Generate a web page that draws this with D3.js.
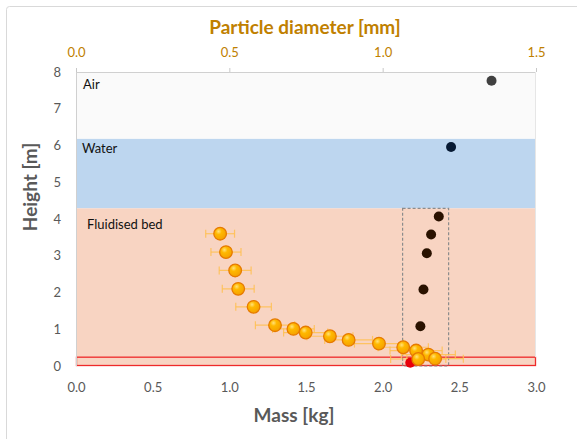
<!DOCTYPE html>
<html><head><meta charset="utf-8">
<script src="https://cdn.jsdelivr.net/npm/d3@7"></script>
<style>body{margin:0;background:#fff}svg{display:block}text{font-family:Lato,"Open Sans",sans-serif}</style>
</head><body>
<svg id="c" width="577" height="439"></svg>
<script>
// ---- data ----
const massTicks = [0.0, 0.5, 1.0, 1.5, 2.0, 2.5, 3.0];
const diamTicks = [0.0, 0.5, 1.0, 1.5];
const heightTicks = [0,1,2,3,4,5,6,7,8];
const zoneNames = ["Air", "Water", "Fluidised bed"];
const zoneLow = [6.18, 4.29, 0];
const zoneHigh = [8, 6.18, 4.29];
const zoneColors = ["#fafafa", "#bdd6ef", "#f8d4c2"];
const distributor = [0, 0.24];
// particle diameter (mm) vs height (m) with x error (mm)
const diamHeight = [3.60,3.10,2.60,2.10,1.61,1.11,1.01,0.91,0.81,0.71,0.61,0.51,0.42,0.31,0.19,0.20];
const diamValue  = [0.470,0.489,0.519,0.529,0.579,0.649,0.709,0.749,0.828,0.889,0.988,1.067,1.109,1.149,1.116,1.171];
const diamErr    = [0.047,0.049,0.052,0.052,0.058,0.064,0.068,0.072,0.075,0.078,0.080,0.082,0.085,0.088,0.090,0.092];
// mass (kg) vs height (m)
const massValue  = [2.71, 2.446, 2.366, 2.316, 2.288, 2.266, 2.246, 2.18];
const massHeight = [7.76, 5.96, 4.07, 3.58, 3.07, 2.08, 1.08, 0.09];
const massColors = ["#404040", "#071a33", "#2a1200", "#2a1200", "#2a1200", "#2a1200", "#2a1200", "#e8000b"];
const boxMass = [2.13, 2.43];
const boxHeight = [0, 4.29];

// ---- scales ----
const x = d3.scaleLinear().domain([0,3]).range([76,536]);
const xd = d3.scaleLinear().domain([0,1.5]).range([76,536]);
const y = d3.scaleLinear().domain([0,8]).range([366,72]);

const svg = d3.select("#c");
const defs = svg.append("defs");
const g = defs.append("radialGradient").attr("id","og").attr("cx","38%").attr("cy","32%").attr("r","70%");
g.append("stop").attr("offset","0%").attr("stop-color","#ffe27a");
g.append("stop").attr("offset","35%").attr("stop-color","#ffb800");
g.append("stop").attr("offset","100%").attr("stop-color","#f4a000");

// outer frame
svg.append("rect").attr("x",6.5).attr("y",6.5).attr("width",600).attr("height",460).attr("rx",3)
  .attr("fill","#fff").attr("stroke","#d9d9d9");

// zones
zoneNames.forEach((n,i)=>{
  svg.append("rect").attr("x",x(0)).attr("width",x(3)-x(0))
    .attr("y",y(zoneHigh[i])).attr("height",y(zoneLow[i])-y(zoneHigh[i]))
    .attr("fill",zoneColors[i]);
});
// distributor
svg.append("rect").attr("x",x(0)+0.5).attr("width",x(3)-x(0)-1)
  .attr("y",y(distributor[1])).attr("height",y(distributor[0])-y(distributor[1])-0.5)
  .attr("fill","none").attr("stroke","#ee2a2a").attr("stroke-width",1.3);

// zone labels
const lblX = [83,82,87], lblY=[89,153,229];
zoneNames.forEach((n,i)=>{
  svg.append("text").attr("x",lblX[i]).attr("y",lblY[i]).attr("font-size",13).attr("fill","#111").text(n);
});

// frame lines
svg.append("line").attr("x1",x(0)).attr("x2",x(3)).attr("y1",y(8)+0.5).attr("y2",y(8)+0.5).attr("stroke","#d0d0d0");
svg.append("line").attr("x1",x(0)+0.5).attr("x2",x(0)+0.5).attr("y1",y(8)).attr("y2",y(0)).attr("stroke","#d0d0d0");
svg.append("line").attr("x1",x(3)-0.5).attr("x2",x(3)-0.5).attr("y1",y(8)).attr("y2",y(distributor[1])).attr("stroke","#e6e6e6");

// top axis (diameter)
const topAx = svg.append("g").attr("transform",`translate(0,${y(8)})`)
  .call(d3.axisTop(xd).tickValues(diamTicks).tickFormat(d3.format(".1f")).tickSize(4).tickPadding(11));
topAx.select(".domain").remove();
topAx.selectAll("line").attr("stroke","#c8c8c8");
topAx.selectAll("text").attr("font-size",13).attr("fill","#c08000").attr("font-family","Lato,'Open Sans',sans-serif");

// bottom axis (mass)
const botAx = svg.append("g").attr("transform",`translate(0,${y(0)})`)
  .call(d3.axisBottom(x).tickValues(massTicks).tickFormat(d3.format(".1f")).tickSize(0).tickPadding(17));
botAx.select(".domain").remove();
botAx.selectAll("text").attr("font-size",13).attr("fill","#595959").attr("font-family","Lato,'Open Sans',sans-serif");

// left axis (height)
const leftAx = svg.append("g").attr("transform",`translate(${x(0)},0)`)
  .call(d3.axisLeft(y).tickValues(heightTicks).tickFormat(d3.format("d")).tickSize(0).tickPadding(15));
leftAx.select(".domain").remove();
leftAx.selectAll("text").attr("font-size",13).attr("fill","#595959").attr("font-family","Lato,'Open Sans',sans-serif");

// axis titles
svg.append("text").attr("x",305).attr("y",34).attr("text-anchor","middle").attr("font-size",19)
  .attr("font-weight","bold").attr("fill","#c08000").text("Particle diameter [mm]");
svg.append("text").attr("x",294).attr("y",422).attr("text-anchor","middle").attr("font-size",19)
  .attr("font-weight","bold").attr("fill","#595959").text("Mass [kg]");
svg.append("text").attr("transform","translate(37,187) rotate(-90)").attr("text-anchor","middle").attr("font-size",19)
  .attr("font-weight","bold").attr("fill","#595959").text("Height [m]");

// dashed box
svg.append("rect").attr("x",x(boxMass[0])).attr("width",x(boxMass[1])-x(boxMass[0]))
  .attr("y",y(boxHeight[1])).attr("height",y(boxHeight[0])-y(boxHeight[1]))
  .attr("fill","none").attr("stroke","#8c8c8c").attr("stroke-width",1.2).attr("stroke-dasharray","3,2");

// error bars
const eb = svg.append("g").attr("stroke","#ffbf50").attr("stroke-opacity",0.85).attr("stroke-width",1.2);
diamValue.forEach((d,i)=>{
  const yy = y(diamHeight[i]);
  const x0 = xd(d-diamErr[i]), x1 = xd(d+diamErr[i]);
  eb.append("line").attr("x1",x0).attr("x2",x1).attr("y1",yy).attr("y2",yy);
  eb.append("line").attr("x1",x0).attr("x2",x0).attr("y1",yy-4).attr("y2",yy+4);
  eb.append("line").attr("x1",x1).attr("x2",x1).attr("y1",yy-4).attr("y2",yy+4);
});

// mass points
svg.append("g").selectAll("circle").data(massValue).join("circle")
  .attr("cx",d=>x(d)).attr("cy",(d,i)=>y(massHeight[i])).attr("r",5)
  .attr("fill",(d,i)=>massColors[i]);

// diameter points
svg.append("g").selectAll("circle").data(diamValue).join("circle")
  .attr("cx",d=>xd(d)).attr("cy",(d,i)=>y(diamHeight[i])).attr("r",6.3)
  .attr("fill","url(#og)").attr("stroke","#e67a00").attr("stroke-width",1.3);
</script>
</body></html>
